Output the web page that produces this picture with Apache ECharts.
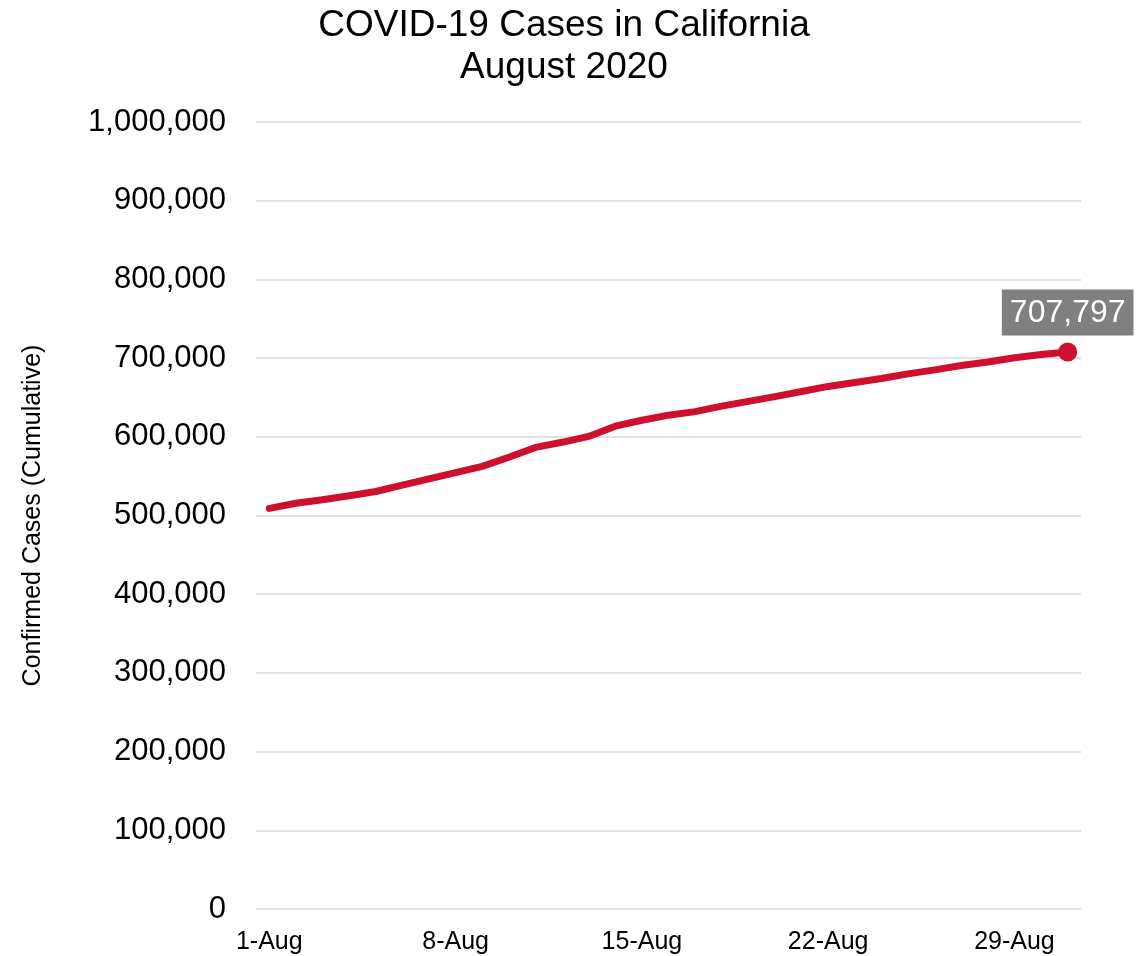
<!DOCTYPE html>
<html>
<head>
<meta charset="utf-8">
<script src="https://cdn.jsdelivr.net/npm/echarts@6/dist/echarts.min.js"></script>
<style>
  html, body { margin: 0; padding: 0; background: #fff; }
  #chart { width: 1145px; height: 956px; }
</style>
</head>
<body>
<div id="chart"></div>
<script>
// days of August 2020
var days = [];
for (var d = 1; d <= 31; d++) days.push(d + '-Aug');

// cumulative confirmed cases
var cases = [
  509000, 515500, 520000, 525000, 530500, 538500, 546500, 554500,
  562500, 574000, 586500, 593000, 600500, 613500, 621000, 627500,
  632000, 639000, 645000, 651000, 657500, 664000, 669000, 674000,
  680000, 685000, 690500, 695000, 700500, 704500, 707797
];

var yTicks = { min: 0, max: 1000000, interval: 100000 };

var chart = echarts.init(document.getElementById('chart'));

var fmt = function (v) { return Number(v).toLocaleString('en-US'); };
var last = cases.length - 1;

var option = {
  animation: false,
  textStyle: { fontFamily: 'Liberation Sans, Arial, sans-serif' },
  title: {
    text: 'COVID-19 Cases in California\nAugust 2020',
    left: 559,
    textAlign: 'center',
    top: 0,
    textStyle: {
      fontSize: 37,
      fontWeight: 'normal',
      color: '#000',
      lineHeight: 42,
      fontFamily: 'Liberation Sans, Arial, sans-serif'
    }
  },
  grid: { left: 256, right: 64, top: 122, bottom: 47 },
  xAxis: {
    type: 'category',
    data: days,
    boundaryGap: true,
    axisLine: { show: false },
    axisTick: { show: false },
    axisLabel: {
      interval: 6,
      fontSize: 25,
      color: '#000',
      margin: 21
    }
  },
  yAxis: {
    type: 'value',
    min: yTicks.min,
    max: yTicks.max,
    interval: yTicks.interval,
    name: 'Confirmed Cases (Cumulative)',
    nameLocation: 'middle',
    nameGap: 210,
    nameTextStyle: { fontSize: 25, color: '#000' },
    axisLine: { show: false },
    axisTick: { show: false },
    splitLine: { lineStyle: { color: '#d9d9d9', width: 1.5 } },
    axisLabel: {
      fontSize: 31,
      color: '#000',
      margin: 30,
      formatter: fmt
    }
  },
  series: [{
    type: 'line',
    data: cases.map(function (v, i) {
      if (i === last) {
        return {
          value: v,
          label: {
            show: true,
            position: 'top',
            distance: 7,
            formatter: function (p) { return fmt(p.value); },
            backgroundColor: '#808080',
            color: '#fff',
            fontSize: 32,
            padding: [8, 8, 6, 8]
          }
        };
      }
      return v;
    }),
    symbol: 'circle',
    showAllSymbol: true,
    symbolSize: function (v, p) { return p.dataIndex === last ? 19 : 0; },
    lineStyle: { color: '#cf0f2e', width: 7, cap: 'round', join: 'round' },
    itemStyle: { color: '#cf0f2e' }
  }]
};

chart.setOption(option);
</script>
</body>
</html>
